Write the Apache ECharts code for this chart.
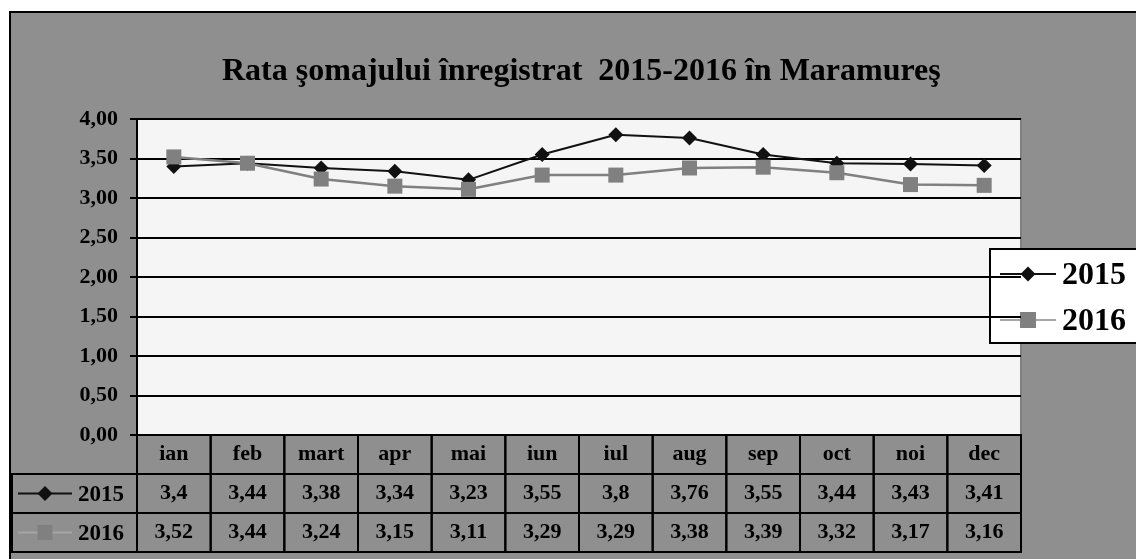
<!DOCTYPE html>
<html>
<head>
    <meta charset="utf-8">
    <title>Rata somajului Maramures</title>
    <script src="https://cdn.jsdelivr.net/npm/echarts@6/dist/echarts.min.js"></script>
    <style>
        html, body { margin: 0; padding: 0; background: #fff; }
        #chart { width: 1136px; height: 559px; }
    </style>
</head>
<body>
    <div id="chart"></div>
    <script>
        // date
        const months = ['ian', 'feb', 'mart', 'apr', 'mai', 'iun', 'iul', 'aug', 'sep', 'oct', 'noi', 'dec'];
        const rate2015 = [3.4, 3.44, 3.38, 3.34, 3.23, 3.55, 3.8, 3.76, 3.55, 3.44, 3.43, 3.41];
        const rate2016 = [3.52, 3.44, 3.24, 3.15, 3.11, 3.29, 3.29, 3.38, 3.39, 3.32, 3.17, 3.16];
        const yTicks = [0, 0.5, 1, 1.5, 2, 2.5, 3, 3.5, 4];

        const FONT = '"Liberation Serif", "DejaVu Serif", serif';
        const GX = 137, GY = 119, GW = 884, GH = 316;
        const ROW_H = 39;
        const colW = GW / months.length;

        const chart = echarts.init(document.getElementById('chart'));

        function fmt(v) {
            return String(v).replace('.', ',');
        }

        // legenda mica (linie + marker)
        function legendKey(x, y, len, color, lineColor, symbol, size) {
            const items = [{
                type: 'line',
                shape: { x1: x, y1: y, x2: x + len, y2: y },
                style: { stroke: lineColor, lineWidth: 2 }
            }];
            const cx = x + len / 2;
            if (symbol === 'diamond') {
                items.push({
                    type: 'polygon',
                    shape: { points: [[cx, y - size / 2], [cx + size / 2, y], [cx, y + size / 2], [cx - size / 2, y]] },
                    style: { fill: color }
                });
            } else {
                items.push({
                    type: 'rect',
                    shape: { x: cx - size / 2, y: y - size / 2, width: size, height: size },
                    style: { fill: color }
                });
            }
            return items;
        }

        // tabel de date sub grafic
        function buildTable() {
            const g = [];
            const y0 = GY + GH;
            // celule antet
            months.forEach((m, i) => {
                g.push({
                    type: 'rect',
                    shape: { x: GX + i * colW, y: y0, width: colW, height: ROW_H },
                    style: { fill: 'none', stroke: '#000', lineWidth: 2 }
                });
            });
            const rows = [
                { name: '2015', data: rate2015, color: '#111', line: '#111', symbol: 'diamond', size: 15 },
                { name: '2016', data: rate2016, color: '#808080', line: '#a6a6a6', symbol: 'rect', size: 15 }
            ];
            rows.forEach((r, ri) => {
                const ry = y0 + ROW_H * (ri + 1);
                g.push({
                    type: 'rect',
                    shape: { x: 12, y: ry, width: GX - 12, height: ROW_H },
                    style: { fill: 'none', stroke: '#000', lineWidth: 2 }
                });
                g.push(...legendKey(18, ry + ROW_H / 2, 54, r.color, r.line, r.symbol, r.size));
                g.push({
                    type: 'text',
                    style: {
                        text: r.name, x: 101, y: ry + ROW_H / 2 + 2,
                        align: 'center', verticalAlign: 'middle',
                        font: 'bold 23px ' + FONT, fill: '#000'
                    }
                });
                r.data.forEach((v, i) => {
                    g.push({
                        type: 'rect',
                        shape: { x: GX + i * colW, y: ry, width: colW, height: ROW_H },
                        style: { fill: 'none', stroke: '#000', lineWidth: 2 }
                    });
                    g.push({
                        type: 'text',
                        style: {
                            text: fmt(v), x: GX + (i + 0.5) * colW, y: ry + ROW_H / 2,
                            align: 'center', verticalAlign: 'middle',
                            font: 'bold 22px ' + FONT, fill: '#000'
                        }
                    });
                });
            });
            return g;
        }

        function buildLegend() {
            const g = [{
                type: 'rect',
                shape: { x: 990, y: 249, width: 160, height: 94 },
                style: { fill: '#fff', stroke: '#000', lineWidth: 2 }
            }];
            g.push(...legendKey(1000, 274, 56, '#111', '#111', 'diamond', 15));
            g.push(...legendKey(1000, 320, 56, '#808080', '#a6a6a6', 'rect', 16));
            ['2015', '2016'].forEach((t, i) => {
                g.push({
                    type: 'text',
                    style: {
                        text: t, x: 1062, y: i === 0 ? 276 : 322,
                        verticalAlign: 'middle',
                        font: 'bold 32px ' + FONT, fill: '#000'
                    }
                });
            });
            return g;
        }

        const option = {
            backgroundColor: '#fff',
            animation: false,
            title: {
                text: 'Rata şomajului înregistrat  2015-2016 în Maramureş',
                left: 217,
                top: 51,
                textStyle: { fontFamily: FONT, fontSize: 32, fontWeight: 'bold', color: '#000' }
            },
            grid: {
                left: GX, top: GY, width: GW, height: GH,
                show: true, backgroundColor: '#f5f5f5', borderColor: '#7f7f7f', borderWidth: 2
            },
            xAxis: {
                type: 'category',
                data: months,
                boundaryGap: true,
                axisLine: { show: false },
                axisTick: { show: false },
                axisLabel: {
                    margin: 8,
                    fontFamily: FONT, fontSize: 22, fontWeight: 'bold', color: '#000'
                },
                splitLine: { show: false }
            },
            yAxis: {
                type: 'value',
                min: yTicks[0],
                max: yTicks[yTicks.length - 1],
                interval: yTicks[1] - yTicks[0],
                axisLine: { show: true, lineStyle: { color: '#000', width: 2 } },
                axisTick: { show: true, length: 7, lineStyle: { color: '#000', width: 2 } },
                axisLabel: {
                    margin: 19,
                    formatter: v => v.toFixed(2).replace('.', ','),
                    fontFamily: FONT, fontSize: 22, fontWeight: 'bold', color: '#000'
                },
                splitLine: { show: true, lineStyle: { color: '#000', width: 2 } }
            },
            series: [
                {
                    name: '2015',
                    type: 'line',
                    data: rate2015,
                    symbol: 'diamond',
                    symbolSize: 15,
                    lineStyle: { color: '#111', width: 2 },
                    itemStyle: { color: '#111' },
                    z: 3
                },
                {
                    name: '2016',
                    type: 'line',
                    data: rate2016,
                    symbol: 'rect',
                    symbolSize: 15,
                    lineStyle: { color: '#808080', width: 2.5 },
                    itemStyle: { color: '#808080' },
                    z: 4
                }
            ],
            graphic: [
                {
                    type: 'rect',
                    z: -10,
                    silent: true,
                    shape: { x: 10, y: 12, width: 1140, height: 560 },
                    style: { fill: '#8f8f8f', stroke: '#000', lineWidth: 2 }
                },
                ...buildTable(),
                ...buildLegend()
            ]
        };

        chart.setOption(option);
    </script>
</body>
</html>
